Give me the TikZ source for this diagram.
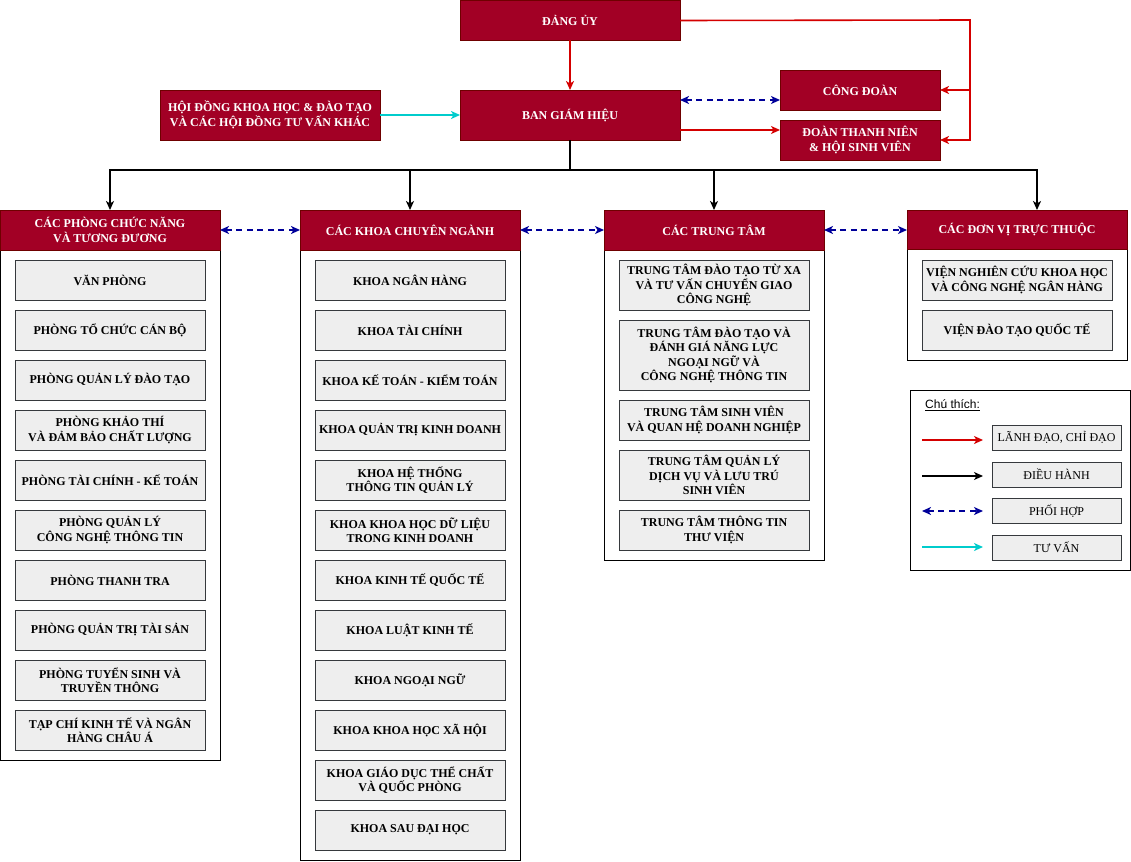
\documentclass[tikz,border=0pt]{standalone}
\usepackage{fontspec}
\setmainfont{Liberation Serif}
\newfontfamily\legendfont{Liberation Sans}
\usetikzlibrary{arrows.meta}
\definecolor{crimson}{HTML}{A20025}
\definecolor{crimsonline}{HTML}{6F0000}
\definecolor{itemfill}{HTML}{EEEEEE}
\definecolor{itemline}{HTML}{36393D}
\definecolor{leadred}{HTML}{D40000}
\definecolor{coopblue}{HTML}{000099}
\definecolor{advcyan}{HTML}{00CCCC}
\begin{document}
\begin{tikzpicture}[x=1pt,y=-1pt,
  redbox/.style={draw=crimsonline, fill=crimson, text=white, line width=0.8pt,
    font=\bfseries\fontsize{12}{14.5}\selectfont, align=center, anchor=north west,
    inner sep=0pt, outer sep=0pt},
  container/.style={draw=black, fill=white, line width=0.9pt, anchor=north west,
    inner sep=0pt, outer sep=0pt, minimum width=220pt},
  itm/.style={draw=itemline, fill=itemfill, line width=0.9pt, anchor=north west,
    inner sep=0pt, outer sep=0pt, minimum width=190pt, minimum height=40pt,
    font=\bfseries\fontsize{12}{14.5}\selectfont, align=center},
  legitem/.style={draw=itemline, fill=itemfill, line width=0.9pt, anchor=north west,
    inner sep=0pt, outer sep=0pt, minimum width=129pt, minimum height=25pt,
    font=\fontsize{12}{14}\selectfont, align=center},
  leadarrow/.style={draw=leadred, line width=1.6pt, -{Stealth[length=9pt,width=8pt,inset=2.5pt]}},
  runarrow/.style={draw=black, line width=1.5pt, -{Stealth[length=9pt,width=8pt,inset=2.5pt]}},
  cooparrow/.style={draw=coopblue, line width=1.6pt, dash pattern=on 6pt off 4.5pt,
    {Stealth[length=9pt,width=8pt,inset=2.5pt]}-{Stealth[length=9pt,width=8pt,inset=2.5pt]}},
  advarrow/.style={draw=advcyan, line width=1.6pt, -{Stealth[length=9pt,width=8pt,inset=2.5pt]}}
]
\useasboundingbox (0,0) rectangle (1131,861);

% ---------- top level ----------
\node[redbox, minimum width=220pt, minimum height=40pt] (dang) at (460,0.5) {ĐẢNG ỦY};
\node[redbox, minimum width=220pt, minimum height=50pt] (bgh) at (460,90) {BAN GIÁM HIỆU};
\node[redbox, minimum width=220pt, minimum height=50pt] (hd) at (160,90) {HỘI ĐỒNG KHOA HỌC \& ĐÀO TẠO\\VÀ CÁC HỘI ĐỒNG TƯ VẤN KHÁC};
\node[redbox, minimum width=160pt, minimum height=40pt] (cd) at (780,70) {CÔNG ĐOÀN};
\node[redbox, minimum width=160pt, minimum height=40pt] (dtn) at (780,120) {ĐOÀN THANH NIÊN\\\& HỘI SINH VIÊN};

\coordinate (rj) at (970,20);
\coordinate (bus) at (570,170);

\draw[leadarrow] (dang.south) -- (bgh.north);
\draw[leadarrow] (dang.east) -- (rj) |- (cd.east);
\draw[leadarrow] (rj) |- (dtn.east);
\draw[advarrow] (hd.east) -- (bgh.west);
\draw[cooparrow] ([yshift=15pt]bgh.east) -- ([yshift=-10pt]cd.west);
\draw[leadarrow] ([yshift=-15pt]bgh.east) -- ([yshift=10pt]dtn.west);

% ---------- column 1 ----------
\node[container, minimum height=550pt] (c1) at (0,210) {};
\node[redbox, minimum width=220pt, minimum height=40pt] (h1) at (0,210) {CÁC PHÒNG CHỨC NĂNG\\VÀ TƯƠNG ĐƯƠNG};
\node[itm] (p1) at (15,260) {VĂN PHÒNG};
\node[itm] (p2) at (15,310) {PHÒNG TỔ CHỨC CÁN BỘ};
\node[itm] (p3) at (15,360) {PHÒNG QUẢN LÝ ĐÀO TẠO};
\node[itm] (p4) at (15,410) {PHÒNG KHẢO THÍ\\VÀ ĐẢM BẢO CHẤT LƯỢNG};
\node[itm] (p5) at (15,460) {PHÒNG TÀI CHÍNH - KẾ TOÁN};
\node[itm] (p6) at (15,510) {PHÒNG QUẢN LÝ\\CÔNG NGHỆ THÔNG TIN};
\node[itm] (p7) at (15,560) {PHÒNG THANH TRA};
\node[itm] (p8) at (15,610) {PHÒNG QUẢN TRỊ TÀI SẢN};
\node[itm] (p9) at (15,660) {PHÒNG TUYỂN SINH VÀ\\TRUYỀN THÔNG};
\node[itm] (p10) at (15,710) {TẠP CHÍ KINH TẾ VÀ NGÂN\\HÀNG CHÂU Á};

% ---------- column 2 ----------
\node[container, minimum height=650pt] (c2) at (300,210) {};
\node[redbox, minimum width=220pt, minimum height=40pt] (h2) at (300,210) {CÁC KHOA CHUYÊN NGÀNH};
\node[itm] (k1) at (315,260) {KHOA NGÂN HÀNG};
\node[itm] (k2) at (315,310) {KHOA TÀI CHÍNH};
\node[itm] (k3) at (315,360) {KHOA KẾ TOÁN - KIỂM TOÁN};
\node[itm] (k4) at (315,410) {KHOA QUẢN TRỊ KINH DOANH};
\node[itm] (k5) at (315,460) {KHOA HỆ THỐNG\\THÔNG TIN QUẢN LÝ};
\node[itm] (k6) at (315,510) {KHOA KHOA HỌC DỮ LIỆU\\TRONG KINH DOANH};
\node[itm] (k7) at (315,560) {KHOA KINH TẾ QUỐC TẾ};
\node[itm] (k8) at (315,610) {KHOA LUẬT KINH TẾ};
\node[itm] (k9) at (315,660) {KHOA NGOẠI NGỮ};
\node[itm] (k10) at (315,710) {KHOA KHOA HỌC XÃ HỘI};
\node[itm] (k11) at (315,760) {KHOA GIÁO DỤC THỂ CHẤT\\VÀ QUỐC PHÒNG};
\node[itm] (k12) at (315,810) {KHOA SAU ĐẠI HỌC};

% ---------- column 3 ----------
\node[container, minimum height=350pt] (c3) at (604,210) {};
\node[redbox, minimum width=220pt, minimum height=40pt] (h3) at (604,210) {CÁC TRUNG TÂM};
\node[itm, minimum height=50pt] (t1) at (619,260) {TRUNG TÂM ĐÀO TẠO TỪ XA\\VÀ TƯ VẤN CHUYỂN GIAO\\CÔNG NGHỆ};
\node[itm, minimum height=70pt] (t2) at (619,320) {TRUNG TÂM ĐÀO TẠO VÀ\\ĐÁNH GIÁ NĂNG LỰC\\NGOẠI NGỮ VÀ\\CÔNG NGHỆ THÔNG TIN};
\node[itm] (t3) at (619,400) {TRUNG TÂM SINH VIÊN\\VÀ QUAN HỆ DOANH NGHIỆP};
\node[itm, minimum height=50pt] (t4) at (619,450) {TRUNG TÂM QUẢN LÝ\\DỊCH VỤ VÀ LƯU TRÚ\\SINH VIÊN};
\node[itm] (t5) at (619,510) {TRUNG TÂM THÔNG TIN\\THƯ VIỆN};

% ---------- column 4 ----------
\node[container, minimum height=150pt] (c4) at (907,210) {};
\node[redbox, minimum width=220pt, minimum height=39pt] (h4) at (907,210) {CÁC ĐƠN VỊ TRỰC THUỘC};
\node[itm] (v1) at (922,260) {VIỆN NGHIÊN CỨU KHOA HỌC\\VÀ CÔNG NGHỆ NGÂN HÀNG};
\node[itm] (v2) at (922,310) {VIỆN ĐÀO TẠO QUỐC TẾ};

% ---------- management tree ----------
\coordinate (h4in) at (1037,210);
\draw[draw=black, line width=1.5pt] (bgh.south) -- (bus);
\draw[runarrow] (bus) -| (h1.north);
\draw[runarrow] (bus) -| (h2.north);
\draw[runarrow] (bus) -| (h3.north);
\draw[runarrow] (bus) -| (h4in);

% ---------- coordination between columns ----------
\draw[cooparrow] ([yshift=-20pt]h1.north east) -- ([yshift=-20pt]h2.north west);
\draw[cooparrow] ([yshift=-20pt]h2.north east) -- ([yshift=-20pt]h3.north west);
\draw[cooparrow] ([yshift=-20pt]h3.north east) -- ([yshift=-20pt]h4.north west);

% ---------- legend ----------
\node[container, minimum height=180pt] (leg) at (910,390) {};
\node[anchor=west, inner sep=0pt, font=\legendfont\fontsize{12}{14}\selectfont] (legtitle) at (925,405) {\underline{Chú thích:}};
\node[legitem] (lb1) at (992,425) {LÃNH ĐẠO, CHỈ ĐẠO};
\node[legitem] (lb2) at (992,462) {ĐIỀU HÀNH};
\node[legitem] (lb3) at (992,498.5) {PHỐI HỢP};
\node[legitem] (lb4) at (992,535) {TƯ VẤN};
\coordinate (la1) at (922,440); \coordinate (lz1) at (983,440);
\coordinate (la2) at (922,476); \coordinate (lz2) at (983,476);
\coordinate (la3) at (922,511); \coordinate (lz3) at (983,511);
\coordinate (la4) at (922,547); \coordinate (lz4) at (983,547);
\draw[leadarrow] (la1) -- (lz1);
\draw[runarrow] (la2) -- (lz2);
\draw[cooparrow] (la3) -- (lz3);
\draw[advarrow] (la4) -- (lz4);
\end{tikzpicture}
\end{document}
